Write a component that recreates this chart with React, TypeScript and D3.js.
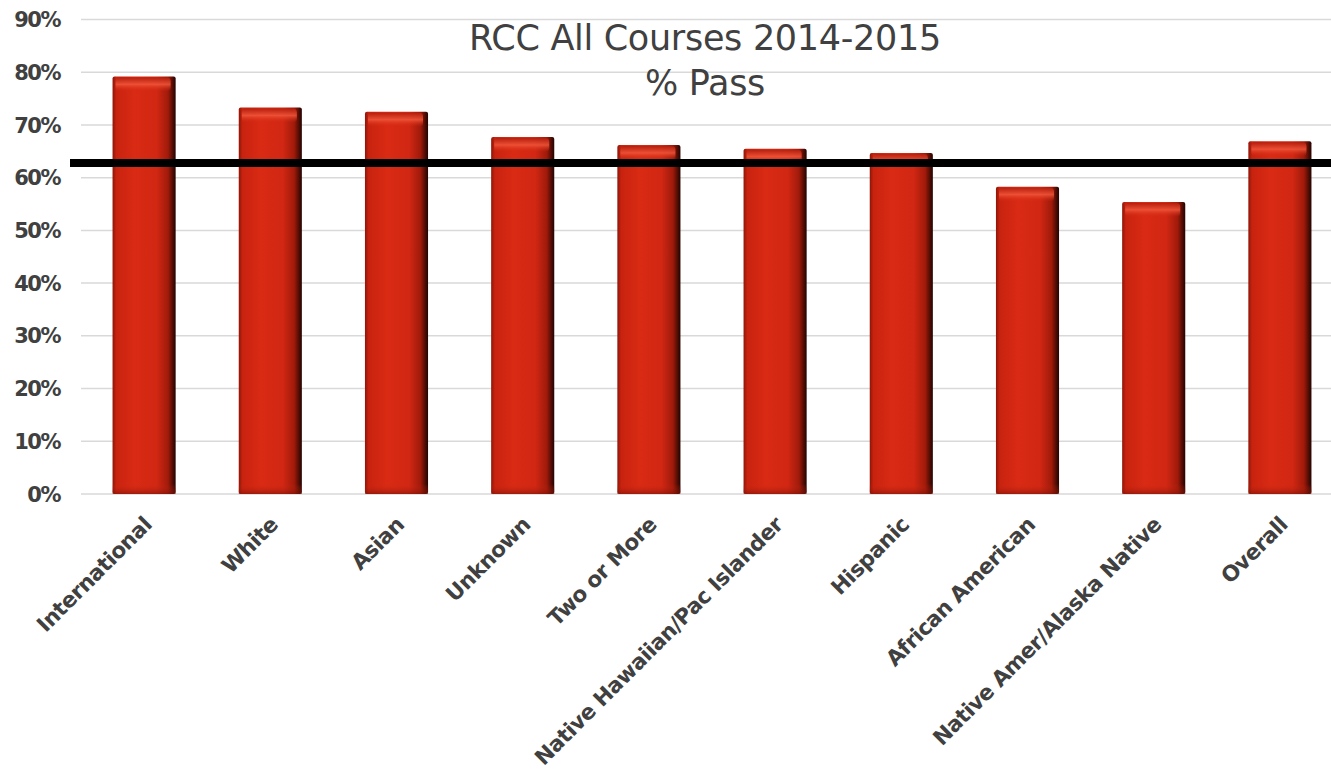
import React from "react";
import * as d3 from "d3";

const categories = [
  "International",
  "White",
  "Asian",
  "Unknown",
  "Two or More",
  "Native Hawaiian/Pac Islander",
  "Hispanic",
  "African American",
  "Native Amer/Alaska Native",
  "Overall",
];
const passRates = [0.792, 0.733, 0.725, 0.677, 0.662, 0.655, 0.647, 0.583, 0.554, 0.669];
const benchmark = 0.628;
const yTicks = [0, 0.1, 0.2, 0.3, 0.4, 0.5, 0.6, 0.7, 0.8, 0.9];
const titleLines = ["RCC All Courses 2014-2015", "% Pass"];

const W = 1331;
const H = 771;
const left = 81;
const right = 1343;
const top = 19.5;
const bottom = 494;

export default function App() {
  const x = d3.scaleBand<string>().domain(categories).range([left, right]).paddingInner(0.5).paddingOuter(0.25);
  const y = d3.scaleLinear().domain([0, 0.9]).range([bottom, top]);
  const fmt = d3.format(".0%");
  const font = "'DejaVu Sans', 'Lato', sans-serif";
  return (
    <svg width={W} height={H} style={{ position: "absolute", left: 0, top: 0, background: "#fff" }}>
      <defs>
        <linearGradient id="barH" x1="0" x2="1" y1="0" y2="0">
          <stop offset="0" stopColor="#8e1508" />
          <stop offset="0.06" stopColor="#c8230f" />
          <stop offset="0.35" stopColor="#d92a14" />
          <stop offset="0.7" stopColor="#d12713" />
          <stop offset="0.88" stopColor="#a01a0a" />
          <stop offset="0.96" stopColor="#4a0b04" />
          <stop offset="1" stopColor="#220402" />
        </linearGradient>
        <linearGradient id="capV" x1="0" x2="0" y1="0" y2="1">
          <stop offset="0" stopColor="#b21d0c" />
          <stop offset="0.5" stopColor="#f0563a" />
          <stop offset="1" stopColor="#d52a14" stopOpacity="0" />
        </linearGradient>
        <linearGradient id="baseV" x1="0" x2="0" y1="0" y2="1">
          <stop offset="0" stopColor="#d52a14" stopOpacity="0" />
          <stop offset="1" stopColor="#7a1207" />
        </linearGradient>
      </defs>
      {yTicks.map((t) => (
        <g key={t}>
          <line x1={left} x2={W} y1={y(t)} y2={y(t)} stroke="#d9d9d9" strokeWidth={1.5} />
          <text
            x={60}
            y={y(t)}
            dy="0.36em"
            textAnchor="end"
            fontFamily={font}
            fontWeight={700}
            fontSize={21}
            letterSpacing={-1.5}
            fill="#404040"
          >
            {fmt(t)}
          </text>
        </g>
      ))}
      {categories.map((c, i) => {
        const bx = x(c)!;
        const bw = x.bandwidth();
        const by = y(passRates[i]);
        const bh = bottom - by;
        return (
          <g key={c}>
            <rect x={bx} y={by} width={bw} height={bh} fill="url(#barH)" rx={2} />
            <rect x={bx + 3} y={by + 1} width={bw - 8} height={14} fill="url(#capV)" rx={4} opacity={0.85} />
            <rect x={bx} y={bottom - 10} width={bw} height={10} fill="url(#baseV)" opacity={0.6} />
          </g>
        );
      })}
      <line x1={70} x2={W} y1={y(benchmark)} y2={y(benchmark)} stroke="#000" strokeWidth={8} />
      {categories.map((c) => {
        const cx = x(c)! + x.bandwidth() / 2 + 9;
        const cy = 526;
        return (
          <text
            key={c}
            transform={`translate(${cx},${cy}) rotate(-45)`}
            textAnchor="end"
            fontFamily={font}
            fontWeight={700}
            fontSize={21.5}
            letterSpacing={-0.5}
            fill="#404040"
          >
            {c}
          </text>
        );
      })}
      {titleLines.map((t, i) => (
        <text
          key={t}
          x={705}
          y={50 + i * 45}
          textAnchor="middle"
          fontFamily={font}
          fontSize={35}
          letterSpacing={-0.3}
          fill="#404040"
        >
          {t}
        </text>
      ))}
    </svg>
  );
}
